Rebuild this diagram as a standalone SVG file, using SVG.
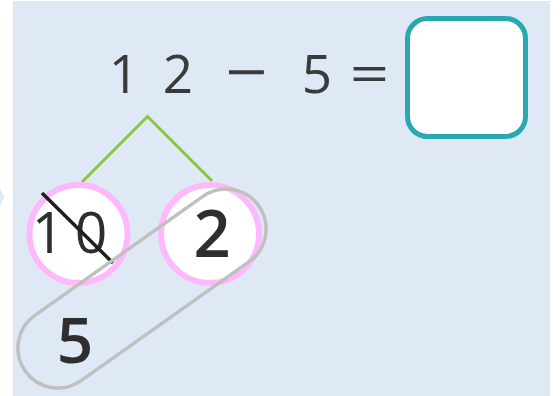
<svg xmlns="http://www.w3.org/2000/svg" width="560" height="396" viewBox="0 0 560 396">
<style>
.eq{font-family:"Open Sans","Liberation Sans",sans-serif;font-size:53px;fill:#3a3a3a;text-anchor:middle}
.num{font-family:"Open Sans","Liberation Sans",sans-serif;fill:#2e2e2e;text-anchor:middle}
.bond{fill:#ffffff;stroke:#fdb9fb;stroke-width:6}
.conn{stroke:#8cc63f;stroke-width:3;fill:none}
</style>
<rect x="0" y="0" width="560" height="396" fill="#ffffff"/>
<rect x="13" y="1" width="537" height="395" fill="#dee9f5"/>
<path d="M0,188 L4,197 L0,206 Z" fill="#dee9f5"/>
<g id="equation">
<text class="eq" x="124" y="93">1</text>
<text class="eq" x="178" y="93">2</text>
<text class="eq" x="0" y="0" transform="translate(246.5,93) scale(1.4,1.1)">−</text>
<text class="eq" x="317" y="93">5</text>
<text class="eq" x="0" y="0" transform="translate(369.5,93) scale(1.3,1)">=</text>
</g>
<g id="answer-box">
<rect x="407.5" y="18.5" width="118" height="118" rx="20" fill="#ffffff" stroke="#2aa8b0" stroke-width="5"/>
</g>
<g id="connectors">
<polyline class="conn" points="82,182 147.5,116.5 212,181"/>
</g>
<g id="node-10">
<circle class="bond" cx="78.5" cy="234" r="49"/>
<text class="num" y="253" font-size="57"><tspan x="48">1</tspan><tspan x="91">0</tspan></text>
<line x1="42" y1="193" x2="113" y2="263" stroke="#1e1e1e" stroke-width="3.5"/>
</g>
<g id="node-2">
<circle class="bond" cx="210" cy="234" r="49"/>
<text class="num" x="212" y="257" font-size="65" font-weight="600">2</text>
</g>
<g id="node-5">
<text class="num" x="75" y="363" font-size="64" font-weight="600">5</text>
</g>
<g id="group-loop">
<rect x="-1" y="248.5" width="286" height="80" rx="40" fill="none" stroke="#c0c0c0" stroke-width="3.5" transform="rotate(-35.3 142 288.5)"/>
</g>
</svg>
